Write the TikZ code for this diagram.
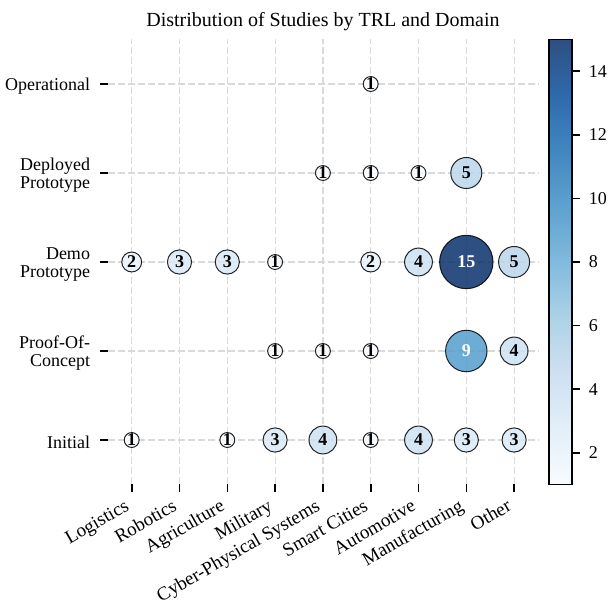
\documentclass[tikz,border=0pt]{standalone}
\usepackage{fontspec}
\setmainfont{Liberation Serif}

% blues
\definecolor{bl1}{HTML}{F7FBFF}
\definecolor{bl2}{HTML}{E9F2FA}
\definecolor{bl3}{HTML}{DBE9F6}
\definecolor{bl4}{HTML}{CDE0F1}
\definecolor{bl5}{HTML}{BBD6EB}
\definecolor{bl9}{HTML}{549ECD}
\definecolor{bl15}{HTML}{08306B}
\definecolor{gridgray}{HTML}{DADADA}
\definecolor{cb0}{HTML}{F8FCFF}
\definecolor{cb1}{HTML}{E3EEF8}
\definecolor{cb2}{HTML}{CFE0F1}
\definecolor{cb3}{HTML}{ADD2E6}
\definecolor{cb4}{HTML}{81BADC}
\definecolor{cb5}{HTML}{5EA2CF}
\definecolor{cb6}{HTML}{4286C0}
\definecolor{cb7}{HTML}{2D6BAB}
\definecolor{cb8}{HTML}{2D4F81}
\pgfdeclareverticalshading{bluesbar}{100bp}{color(0bp)=(cb0); color(25bp)=(cb0); color(31.25bp)=(cb1); color(37.5bp)=(cb2); color(43.75bp)=(cb3); color(50bp)=(cb4); color(56.25bp)=(cb5); color(62.5bp)=(cb6); color(68.75bp)=(cb7); color(75bp)=(cb8); color(100bp)=(cb8)}

\begin{document}
\begin{tikzpicture}[x=1pt, y=1pt,
  gridline/.style={gridgray, line width=1.2pt, dash pattern=on 7pt off 3pt},
  tickmark/.style={black, line width=1.6pt},
  ticklab/.style={font=\fontsize{18}{18}\selectfont, inner sep=0pt},
  xlab/.style={ticklab, font=\fontsize{19}{19}\selectfont, rotate=30, anchor=north east, text height=13.5pt, text depth=3pt},
  ylab/.style={ticklab, anchor=east, align=right},
  bubble/.style={circle, draw=black, draw opacity=0.85, fill opacity=0.85, text opacity=1, line width=1pt, inner sep=0pt, font=\fontsize{18}{18}\bfseries}]
\useasboundingbox (0,0) rectangle (608,608);

% title
\node[font=\fontsize{20}{20}\selectfont, anchor=base] (title) at (323,581) {Distribution of Studies by TRL and Domain};

\begin{scope}[shift={(83.9,79)}, x=47.8pt, y=89pt]
% grid
\foreach \i in {1,...,9}
  \draw[gridline] (\i,0.5) -- (\i,5.5);
\foreach \j in {1,...,5}
  \draw[gridline] (0.5,\j) -- (9.5,\j);

%ticks
\foreach \i/\lab in {1/Logistics, 2/Robotics, 3/Agriculture, 4/Military, 5/Cyber-Physical Systems, 6/Smart Cities, 7/Automotive, 8/Manufacturing, 9/Other}
  \draw[tickmark] (\i,0.5) -- ++(0,-8pt) node[xlab] (dom-\i) at ([xshift=-8.2pt,yshift=-12.5pt]\i,0.5) {\lab};
\foreach \j/\lab in {1/Initial, 2/{Proof-Of-\\Concept}, 3/{Demo\\Prototype}, 4/{Deployed\\Prototype}, 5/Operational}
  \draw[tickmark] (0.5,\j) -- ++(-8pt,0) node[ylab] (trl-\j) at ([xshift=-17pt,yshift=-2.5pt]0.5,\j) {\lab};

% bubbles
\foreach \i/\j/\n/\c in {6/5/1/black,
    5/4/1/black, 6/4/1/black, 7/4/1/black, 8/4/5/black,
    1/3/2/black, 2/3/3/black, 3/3/3/black, 4/3/1/black, 6/3/2/black, 7/3/4/black, 8/3/15/white, 9/3/5/black,
    4/2/1/black, 5/2/1/black, 6/2/1/black, 8/2/9/white, 9/2/4/black,
    1/1/1/black, 3/1/1/black, 4/1/3/black, 5/1/4/black, 6/1/1/black, 7/1/4/black, 8/1/3/black, 9/1/3/black}
{
  \pgfmathsetmacro\dia{2*sqrt(4.6+47.2*\n)}
  \node[bubble, fill=bl\n, text=\c, minimum size=\dia pt] (b-\i-\j) at (\i,\j) {\n};
}
\end{scope}

% colorbar
\shade[shading=bluesbar] (549,123.5) rectangle (572,568.5);
\draw[line width=1.6pt] (549,123.5) rectangle (572,568.5);
\foreach \v in {2,4,...,14}
  \draw[tickmark] (572,{123.5+(\v-1)*31.79}) -- ++(8,0) node[ticklab, right, xshift=8pt] (cb-\v) {\v};

\end{tikzpicture}
\end{document}
